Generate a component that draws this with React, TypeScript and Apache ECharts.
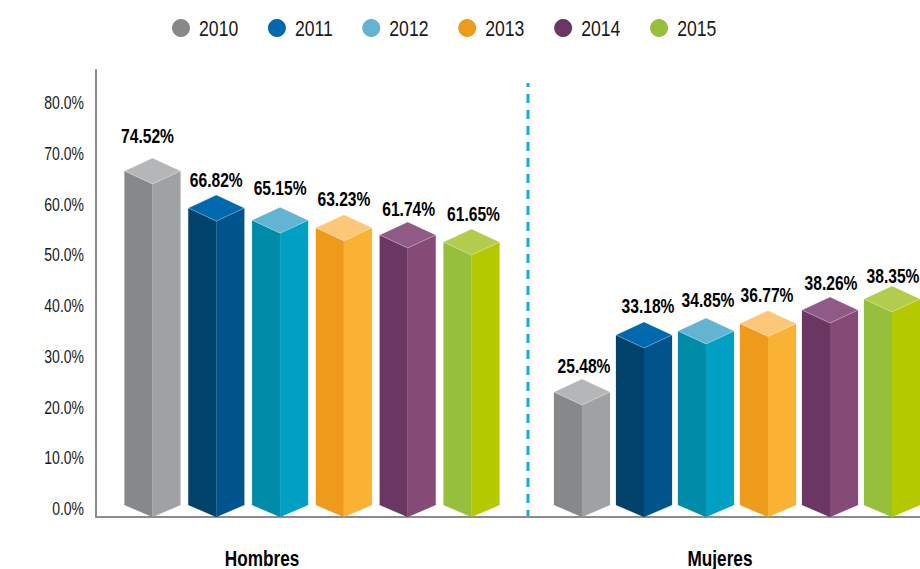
import React, { useEffect, useRef } from "react";
import * as echarts from "echarts";

const groups = ["Hombres", "Mujeres"];
const years = ["2010", "2011", "2012", "2013", "2014", "2015"];
const yTicksFormat = (v: number) => v.toFixed(1) + "%";

// Values printed above the bars
const printed2010 = [74.52, 25.48];
const printed2011 = [66.82, 33.18];
const printed2012 = [65.15, 34.85];
const printed2013 = [63.23, 36.77];
const printed2014 = [61.74, 38.26];
const printed2015 = [61.65, 38.35];
const printed = [printed2010, printed2011, printed2012, printed2013, printed2014, printed2015];

// Heights of the bars as read against the picture's axis (they differ from the printed values)
const drawn2010 = [66.6, 23.05];
const drawn2011 = [59.3, 34.3];
const drawn2012 = [56.9, 35.07];
const drawn2013 = [55.4, 36.55];
const drawn2014 = [54.0, 39.2];
const drawn2015 = [52.6, 41.4];
const drawn = [drawn2010, drawn2011, drawn2012, drawn2013, drawn2014, drawn2015];

const FONT = '"Liberation Sans", Arial, sans-serif';
const NARROW = 0.8; // the reference uses a narrow face: condense the installed one
const FACES = [
  { left: "#87888a", right: "#a0a1a3", top: "#b5b6b8", legend: "#87888a" },
  { left: "#004269", right: "#00548c", top: "#0069ad", legend: "#0069ad" },
  { left: "#008ca8", right: "#00a0c4", top: "#63b3d2", legend: "#63b3d2" },
  { left: "#ee9b1c", right: "#f9b233", top: "#fcc778", legend: "#ee9b1c" },
  { left: "#6a3763", right: "#864a77", top: "#8f5a86", legend: "#6a3763" },
  { left: "#96c03c", right: "#b5c900", top: "#b2cc4e", legend: "#96c03c" },
];
const GROUP_LAYOUT = [
  { shift: 50, step: 63.8 },
  { shift: 17, step: 62 },
];
const HALF = 28;
const RISE = 13;
// label offset from the cube's back corner, per group and year
const LABEL_OFFSET = [
  [[-5, 22], [0, 15], [0, 19], [0, 15], [1, 13], [2, 15]],
  [[2, 13], [4, 16], [2, 18], [-1, 15], [1, 14], [1, 10]],
];

const makeSeries = (yi: number) => ({
  type: "custom" as const,
  name: years[yi],
  coordinateSystem: "cartesian2d",
  xAxisIndex: 0,
  yAxisIndex: 0,
  clip: false,
  itemStyle: { color: FACES[yi].legend },
  encode: { x: 0, y: 1 },
  data: groups.map((g, i) => [g, drawn[yi][i], printed[yi][i], i]),
  renderItem: (_: any, api: any) => {
    const gi = api.value(3);
    const layout = GROUP_LAYOUT[gi];
    const [bandX, ty] = api.coord([gi, api.value(1)]);
    const zeroY = api.coord([gi, 0])[1];
    const cx = bandX + layout.shift + (yi - 2.5) * layout.step;
    const frontBottom = zeroY + 8;
    const sideBottom = frontBottom - 12;
    const [dx, dy] = LABEL_OFFSET[gi][yi];
    const f = FACES[yi];
    const poly = (points: number[][], fill: string, stroke?: string) => ({
      type: "polygon",
      shape: { points },
      style: { fill, stroke: stroke ?? fill, lineWidth: stroke ? 0.6 : 0.2 },
    });
    return {
      type: "group",
      children: [
        poly([[cx - HALF, ty], [cx, ty + RISE], [cx, frontBottom], [cx - HALF, sideBottom]], f.left),
        poly([[cx + HALF, ty], [cx, ty + RISE], [cx, frontBottom], [cx + HALF, sideBottom]], f.right),
        poly([[cx - HALF, ty], [cx, ty - RISE], [cx + HALF, ty], [cx, ty + RISE]], f.top, "rgba(255,255,255,0.45)"),
        {
          type: "text",
          x: cx + dx,
          y: ty - RISE - dy,
          style: {
            text: api.value(2).toFixed(2) + "%",
            align: "center",
            verticalAlign: "middle",
            font: `bold 19.5px ${FONT}`,
            fill: "#000",
          },
        },
      ],
    };
  },
});

export default function App() {
  const ref = useRef<HTMLDivElement>(null);
  useEffect(() => {
    document.body.style.margin = "0";
    const chart = echarts.init(ref.current!, undefined, { renderer: "svg" });
    chart.setOption({
      animation: false,
      backgroundColor: "#fff",
      legend: {
        data: years,
        left: 167,
        top: 12,
        icon: "circle",
        itemWidth: 18,
        itemHeight: 18,
        itemGap: 20,
        textStyle: { fontFamily: FONT, fontSize: 22, color: "#1a1a1a", padding: [0, 0, 0, 4] },
      },
      grid: [
        { left: 262, width: 458, top: 103, bottom: 60, outerBoundsMode: "none" },
        { left: 96, right: 0, top: 70, bottom: 52, outerBoundsMode: "none" },
        { left: 262, width: 458, top: 103, bottom: 60, outerBoundsMode: "none" },
      ],
      xAxis: [
        { gridIndex: 0, type: "category", data: groups, boundaryGap: false, show: false },
        {
          gridIndex: 1, type: "category", data: groups,
          axisLine: { lineStyle: { color: "#8c8c8c", width: 2 } },
          axisTick: { show: false }, axisLabel: { show: false },
        },
        {
          gridIndex: 2, type: "category", data: groups, boundaryGap: false,
          axisLine: { show: false }, axisTick: { show: false },
          axisLabel: { margin: 38, fontFamily: FONT, fontSize: 21.5, fontWeight: "bold", color: "#000" },
        },
      ],
      yAxis: [
        {
          gridIndex: 0, type: "value", min: 0, max: 80, interval: 10, show: false,
        },
        {
          gridIndex: 1, type: "value", min: 0, max: 100,
          axisLine: { show: true, lineStyle: { color: "#8c8c8c", width: 2 } },
          axisTick: { show: false }, axisLabel: { show: false }, splitLine: { show: false },
        },
        {
          gridIndex: 2, type: "value", min: 0, max: 80, interval: 10,
          offset: 166,
          axisLine: { show: false }, axisTick: { show: false }, splitLine: { show: false },
          axisLabel: { margin: 12, formatter: yTicksFormat, fontFamily: FONT, fontSize: 17.5, color: "#1a1a1a" },
        },
      ],
      graphic: [
        {
          type: "line",
          shape: { x1: 528, y1: 83, x2: 528, y2: 517 },
          style: { stroke: "#17a8e3", lineWidth: 3, lineDash: [9, 7], lineDashOffset: 5 },
          silent: true,
        },
      ],
      series: years.map((_, i) => makeSeries(i)),
    });
    // condense every text around its anchor point; legend texts get the gap the legend leaves out
    ref.current!.querySelectorAll("svg text").forEach((t) => {
      const prev = t.getAttribute("transform") ?? "";
      const nudge = years.includes((t.textContent ?? "").trim()) ? "translate(5.5,0) " : "";
      t.setAttribute("transform", `${nudge}${prev} scale(${NARROW},1)`);
    });
    return () => chart.dispose();
  }, []);
  return <div ref={ref} style={{ width: 920, height: 569 }} />;
}
